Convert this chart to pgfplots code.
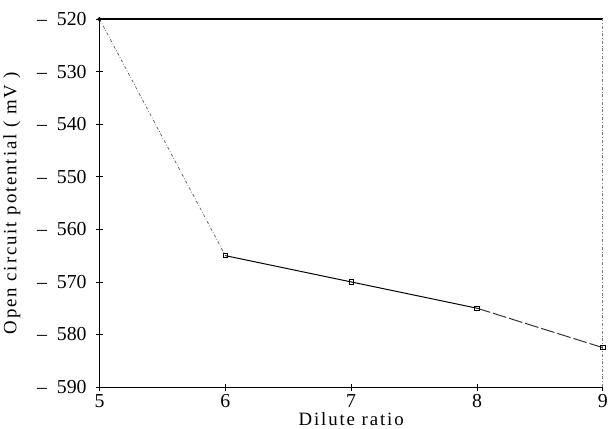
\documentclass[border=0pt]{standalone}
\usepackage{pgfplots}
\pgfplotsset{compat=1.18}
\usepackage{fontspec}
\setmainfont{Liberation Serif}
\begin{document}
\begin{tikzpicture}[x=1bp,y=1bp]
\begin{axis}[
    scale only axis,
    width=506bp, height=370bp,
    xmin=5, xmax=9, ymin=-590, ymax=-520,
    xtick={5,6,7,8,9},
    ytick={-590,-580,...,-520},
    tick align=center,
    major tick length=7bp,
    xtick pos=bottom, ytick pos=left,
    axis line style={draw=none},
    tick style={black, line width=0.7pt},
    /pgf/number format/assume math mode=true,
    yticklabel={\textendash\enspace\pgfmathparse{-\tick}\pgfmathprintnumber[int detect]{\pgfmathresult}},
    ticklabel style={font=\fontsize{20}{22}\selectfont},
    yticklabel style={xshift=-6bp},
    label style={font=\fontsize{19}{22}\selectfont\addfontfeatures{LetterSpace=10}},
    xlabel={Dilute ratio},
    ylabel={Open circuit potential ( mV )},
    xlabel style={yshift=2bp},
    ylabel style={yshift=10bp},
    clip=false,
]
% room above the frame, as in the scan
\path (rel axis cs:0,1.052) -- (rel axis cs:0,1);
% axis frame
\draw[black, line width=1pt] (rel axis cs:0,0) -- (rel axis cs:0,1);
\draw[black, line width=1.6pt] (rel axis cs:0,1) -- (rel axis cs:1,1);
\draw[black, line width=1.1pt] (rel axis cs:0,0) -- (rel axis cs:1,0);
\draw[gray, line width=0.7pt, dash dot] (rel axis cs:1,0) -- (rel axis cs:1,1);
\addplot[gray!70!black, line width=0.7pt, dash dot] coordinates {(5,-520) (6,-565)};
\addplot[black, line width=1pt] coordinates {(6,-565) (7,-570) (8,-575)};
\addplot[black!80, line width=1pt, dash pattern=on 14pt off 3pt] coordinates {(8,-575) (9,-582.5)};
\addplot[only marks, mark=square, mark size=2.2pt, mark options={black, line width=0.7pt, fill=white}]
    coordinates {(6,-565) (7,-570) (8,-575) (9,-582.5)};
\addplot[only marks, mark=*, mark size=2pt, mark options={black}]
    coordinates {(5,-520)};
\end{axis}
\end{tikzpicture}
\end{document}
